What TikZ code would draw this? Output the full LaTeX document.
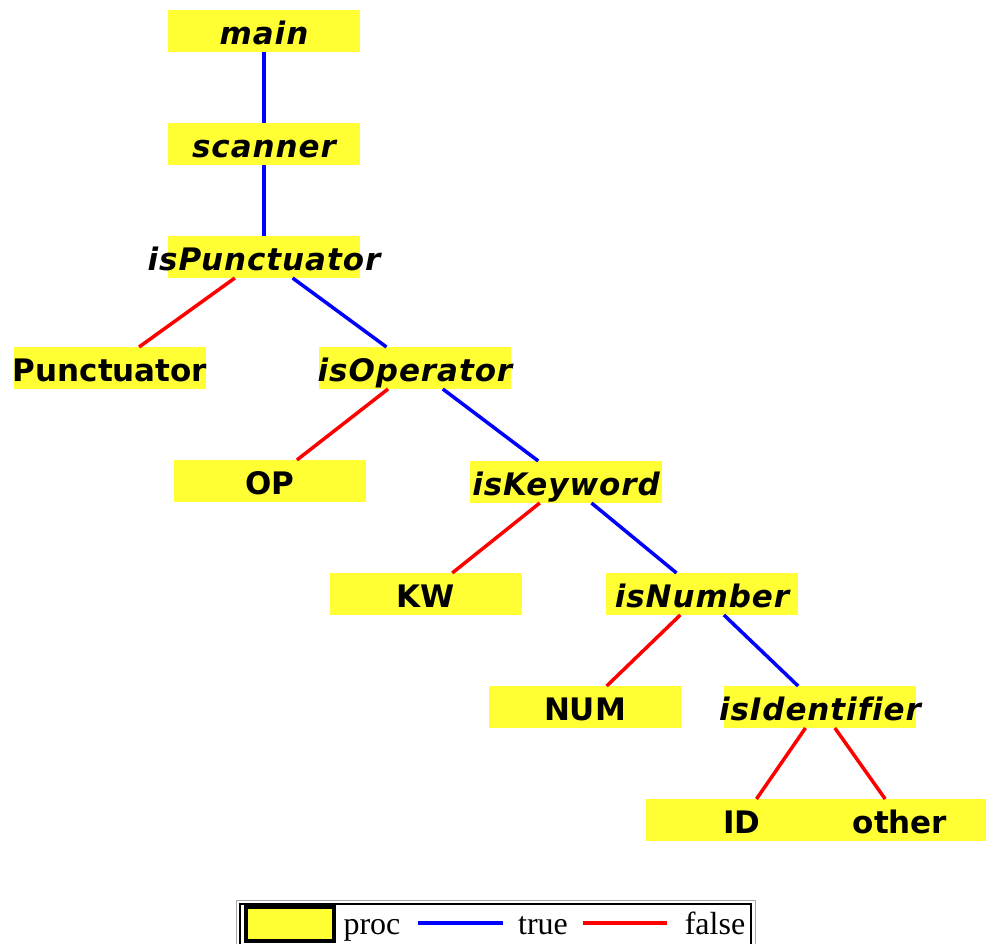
\documentclass[tikz,border=0pt]{standalone}
\usepackage{fontspec}
\setmainfont{DejaVu Sans}[Ligatures=NoCommon]
\newfontfamily\itfam{DejaVu Sans}[Ligatures=NoCommon, LetterSpace=3]
\newfontfamily\legfont{Liberation Serif}
\definecolor{procyellow}{RGB}{255,255,51}
\begin{document}
\begin{tikzpicture}[x=1pt,y=1pt,
  box/.style={fill=procyellow, minimum width=192pt, minimum height=42pt, inner sep=0pt, outer sep=0pt, draw=none},
  lbl/.style={anchor=base, inner sep=0pt, font=\fontsize{31}{31}\selectfont\bfseries},
  ilbl/.style={lbl, font=\itfam\fontsize{31}{31}\selectfont\bfseries\itshape},
  tru/.style={draw=blue, line width=3.5pt},
  fal/.style={draw=red, line width=3.5pt},
  legtext/.style={anchor=base, inner sep=0pt, font=\legfont\fontsize{32}{32}\selectfont}]
\useasboundingbox (0,0) rectangle (986,944);
% boxes (y = 944 - image y)
\node[box] (main) at (264,913) {};
\node[box] (scanner) at (264,800) {};
\node[box] (isPunct) at (264,687) {};
\node[box] (Punct) at (110,576) {};
\node[box] (isOp) at (415,576) {};
\node[box] (OP) at (270,463) {};
\node[box] (isKey) at (566,462) {};
\node[box] (KW) at (426,350) {};
\node[box] (isNum) at (702,350) {};
\node[box] (NUM) at (585,237) {};
\node[box] (isId) at (820,237) {};
\node[box] (ID) at (742,124) {};
\node[box] (other) at (900,124) {};
% edges
\draw[tru] (main) -- (scanner);
\draw[tru] (scanner) -- (isPunct);
\draw[fal] (isPunct) -- (Punct);
\draw[tru] (isPunct) -- (isOp);
\draw[fal] (isOp) -- (OP);
\draw[tru] (isOp) -- (isKey);
\draw[fal] (isKey) -- (KW);
\draw[tru] (isKey) -- (isNum);
\draw[fal] (isNum) -- (NUM);
\draw[tru] (isNum) -- (isId);
\draw[fal] (isId) -- (ID);
\draw[fal] (isId) -- (other);
% labels
\node[ilbl] (tmain) at ([yshift=-14pt]main.center) {main};
\node[ilbl] (tscanner) at ([yshift=-14pt]scanner.center) {scanner};
\node[ilbl] (tisPunct) at ([yshift=-14pt]isPunct.center) {isPunctuator};
\node[lbl] (tPunct) at ([yshift=-14pt]Punct.center) {Punctuator};
\node[ilbl] (tisOp) at ([yshift=-14pt]isOp.center) {isOperator};
\node[lbl] (tOP) at ([yshift=-14pt]OP.center) {OP};
\node[ilbl] (tisKey) at ([yshift=-14pt]isKey.center) {isKeyword};
\node[lbl] (tKW) at ([yshift=-14pt]KW.center) {KW};
\node[ilbl] (tisNum) at ([yshift=-14pt]isNum.center) {isNumber};
\node[lbl] (tNUM) at ([yshift=-14pt]NUM.center) {NUM};
\node[ilbl] (tisId) at ([yshift=-14pt]isId.center) {isIdentifier};
\node[lbl] (tID) at ([yshift=-14pt]ID.center) {ID};
\node[lbl] (tother) at ([yshift=-14pt]other.center) {other};
% legend
\draw[gray!70, line width=1pt] (236,-2) rectangle (755,43);
\draw[black, line width=1.5pt] (240,-2) rectangle (751,40);
\node[draw=black, line width=3.5pt, fill=procyellow, minimum width=88pt, minimum height=34pt, inner sep=0pt] (swatch) at (290,20) {};
\node[legtext] (lproc) at (372,9) {proc};
\coordinate (tb1) at (418,21);
\coordinate (tb2) at (503,21);
\draw[draw=blue, line width=4pt] (tb1) -- (tb2);
\node[legtext] (ltrue) at (543,9) {true};
\coordinate (fb1) at (583,21);
\coordinate (fb2) at (667,21);
\draw[draw=red, line width=4pt] (fb1) -- (fb2);
\node[legtext] (lfalse) at (715,9) {false};
\end{tikzpicture}
\end{document}
